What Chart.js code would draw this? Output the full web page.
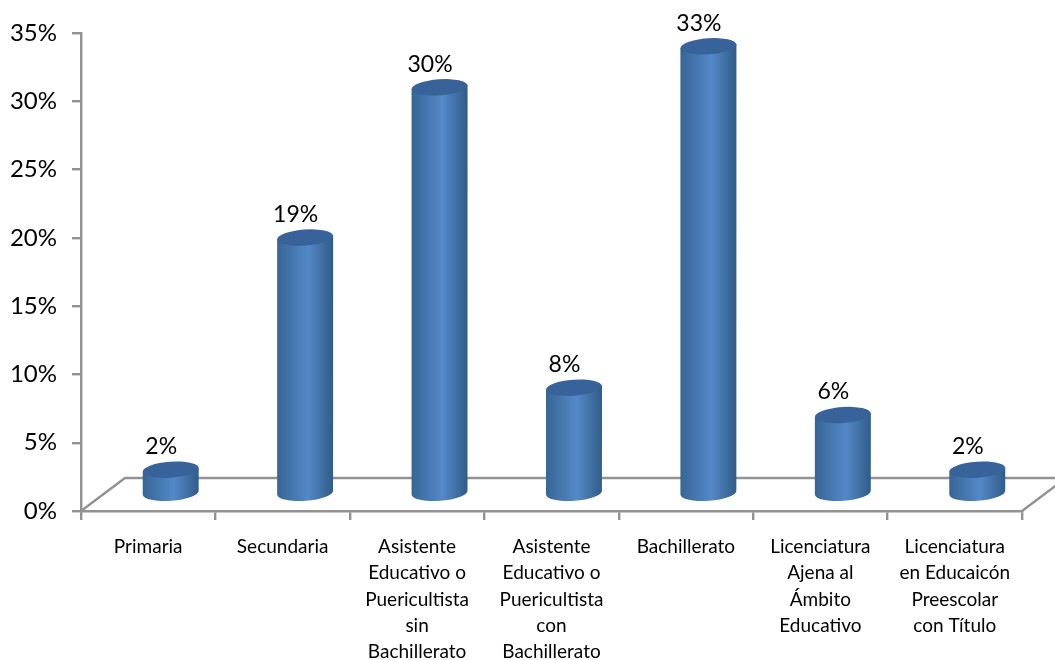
<!DOCTYPE html>
<html>
<head>
<meta charset="utf-8">
<style>
  html, body { margin: 0; padding: 0; background: #fff; }
  canvas { display: block; }
</style>
</head>
<body>
<canvas id="grafica" width="1055" height="660"></canvas>
<script src="https://cdn.jsdelivr.net/npm/chart.js@4"></script>
<script>
const categorias = [
  "Primaria",
  "Secundaria",
  ["Asistente", "Educativo o", "Puericultista", "sin", "Bachillerato"],
  ["Asistente", "Educativo o", "Puericultista", "con", "Bachillerato"],
  "Bachillerato",
  ["Licenciatura", "Ajena al", "Ámbito", "Educativo"],
  ["Licenciatura", "en Educaicón", "Preescolar", "con Título"],
];
const valores = [2, 19, 30, 8, 33, 6, 2];
const ticksY = [0, 5, 10, 15, 20, 25, 30, 35];

const fuente = "Lato, 'Open Sans', sans-serif";
const gris = "#929292";

// piso en perspectiva y cilindros, dibujados sobre las posiciones de las barras
const cilindros = {
  id: "cilindros",
  beforeDatasetsDraw(chart) {
    const { ctx, chartArea: a } = chart;
    ctx.save();
    ctx.strokeStyle = gris;
    ctx.lineWidth = 2.4;
    ctx.beginPath();
    ctx.moveTo(a.left, a.bottom);
    ctx.lineTo(a.left + 44, a.bottom - 33);
    ctx.lineTo(1060, a.bottom - 33);
    ctx.moveTo(a.right, a.bottom);
    ctx.lineTo(a.right + 44, a.bottom - 33);
    ctx.stroke();
    ctx.restore();
  },
  afterDatasetsDraw(chart) {
    const { ctx } = chart;
    const rot = -0.07;
    chart.getDatasetMeta(0).data.forEach((barra, i) => {
      const cx = barra.x + 22.5;
      const rx = 28;
      const ry = 8;
      const arriba = barra.y - 14;
      const abajo = barra.base - 17;
      const dy = rx * Math.sin(rot);

      const grad = ctx.createLinearGradient(cx - rx, 0, cx + rx, 0);
      grad.addColorStop(0, "#376595");
      grad.addColorStop(0.55, "#5488c8");
      grad.addColorStop(1, "#315c88");

      ctx.save();
      ctx.fillStyle = grad;
      ctx.beginPath();
      ctx.moveTo(cx - rx, arriba - dy);
      ctx.lineTo(cx - rx, abajo - dy);
      ctx.ellipse(cx, abajo, rx, ry, rot, Math.PI, 0, true);
      ctx.lineTo(cx + rx, arriba + dy);
      ctx.closePath();
      ctx.fill();

      ctx.fillStyle = "#38639a";
      ctx.beginPath();
      ctx.ellipse(cx, arriba, rx, ry, rot, 0, Math.PI * 2);
      ctx.fill();

      ctx.fillStyle = "#000";
      ctx.font = "23px " + fuente;
      ctx.textAlign = "center";
      ctx.textBaseline = "middle";
      ctx.fillText(valores[i] + "%", barra.x + 13, arriba - 23);
      ctx.restore();
    });
  },
};

new Chart(document.getElementById("grafica"), {
  type: "bar",
  data: {
    labels: categorias,
    datasets: [
      {
        data: valores,
        backgroundColor: "rgba(0,0,0,0)",
        barPercentage: 0.42,
        categoryPercentage: 1,
      },
    ],
  },
  options: {
    responsive: false,
    animation: false,
    layout: { padding: { top: 33, right: 33, left: 0, bottom: 0 } },
    plugins: { legend: { display: false }, tooltip: { enabled: false } },
    scales: {
      x: {
        afterFit(scale) { scale.height = 149; },
        border: { color: gris, width: 2.4 },
        grid: { drawOnChartArea: false, color: gris, tickLength: 9, lineWidth: 2.4 },
        ticks: {
          color: "#000",
          font: { family: fuente, size: 19, lineHeight: 1.38 },
          padding: 14,
          maxRotation: 0,
          autoSkip: false,
        },
      },
      y: {
        min: 0,
        max: 35,
        afterFit(scale) { scale.width = 81; },
        afterBuildTicks(scale) { scale.ticks = ticksY.map((v) => ({ value: v })); },
        border: { color: gris, width: 2.4 },
        grid: { drawOnChartArea: false, color: gris, tickLength: 9, lineWidth: 2.4 },
        ticks: {
          color: "#000",
          font: { family: fuente, size: 24 },
          padding: 15,
          callback: (v) => v + "%",
        },
      },
    },
  },
  plugins: [cilindros],
});
</script>
</body>
</html>
